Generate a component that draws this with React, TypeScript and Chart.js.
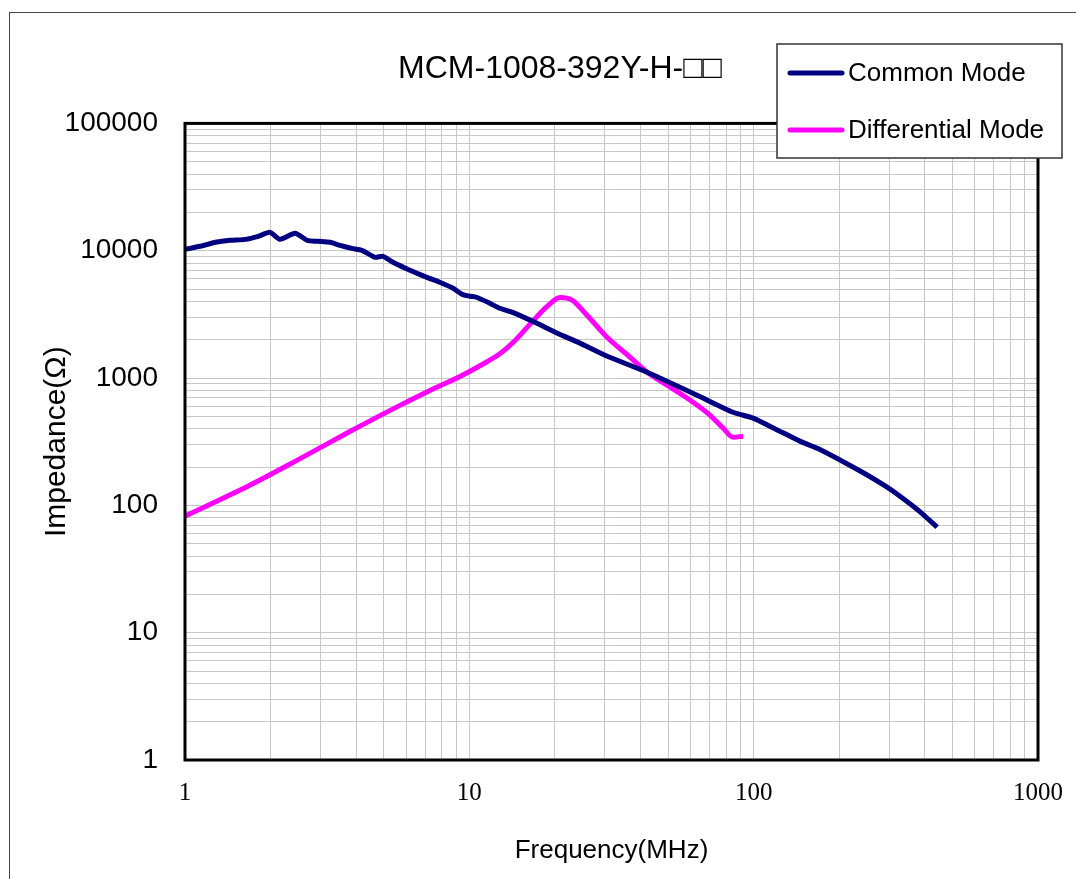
import React, { useEffect, useRef } from 'react';
import { Chart, registerables } from 'chart.js';

Chart.register(...registerables);

// ---------- data ----------
const TITLE = 'MCM-1008-392Y-H-□□';
const X_TITLE = 'Frequency(MHz)';
const Y_TITLE = 'Impedance(Ω)';
const SERIES_NAMES = ['Common Mode', 'Differential Mode'];
const X_TICKS = [1, 10, 100, 1000];
const Y_TICKS = [1, 10, 100, 1000, 10000, 100000];

const cmFreq = [1.0, 1.13, 1.28, 1.44, 1.63, 1.81, 1.99, 2.16, 2.44, 2.69, 2.93, 3.24, 3.51, 3.86, 4.19, 4.65, 4.97, 5.39, 6.18, 7.09, 7.87, 8.77, 9.42, 10.05, 10.6, 11.8, 12.8, 14.2, 17.0, 20.4, 24.5, 30.0, 42.2, 63.2, 84.6, 99.5, 120, 146, 171, 237, 290, 327, 385, 442];
const cmImpedance = [10260, 10830, 11640, 12070, 12280, 12970, 13940, 12280, 13700, 12070, 11850, 11640, 11020, 10440, 10070, 8880, 9040, 8110, 7020, 6180, 5650, 5070, 4550, 4390, 4310, 3870, 3530, 3280, 2740, 2250, 1880, 1510, 1110, 733, 539, 484, 395, 318, 275, 186, 142, 118, 89, 67.4];

const dmFreq = [1.0, 1.69, 2.54, 3.8, 5.7, 7.27, 9.27, 10.9, 12.8, 14.24, 16.35, 18.77, 20.84, 22.97, 25.94, 30.5, 36.8, 42.2, 49.6, 61.2, 70.3, 78.1, 84.6, 91.8];
const dmImpedance = [82.3, 144, 233, 380, 610, 800, 1030, 1250, 1550, 1900, 2650, 3650, 4300, 4100, 3112, 2090, 1456, 1111, 878, 646, 510, 404, 343, 349];

const SERIES_COLORS = ['#000080', '#FF00FF'];

// ---------- helpers ----------
const gridValues = (decades: number[]) => {
  const out: number[] = [];
  for (let i = 0; i < decades.length - 1; i++) {
    for (let m = 1; m <= 9; m++) out.push(m * decades[i]);
  }
  out.push(decades[decades.length - 1]);
  return out;
};

const isDecadeLabel = (v: number, list: number[]) =>
  list.some((d) => Math.abs(d - v) / d < 1e-6);

const SANS = '"Liberation Sans", Arial, sans-serif';
const SERIF = '"Liberation Serif", "Times New Roman", serif';

const CANVAS_W = 1120;
const CANVAS_H = 879;

const bgPlugin = {
  id: 'bgFrame',
  beforeDraw(chart: any) {
    const ctx = chart.ctx;
    ctx.save();
    ctx.fillStyle = '#ffffff';
    ctx.fillRect(0, 0, chart.width, chart.height);
    ctx.strokeStyle = '#444444';
    ctx.lineWidth = 1;
    ctx.strokeRect(9.5, 12.5, 3000, 3000);
    ctx.restore();
  },
};

const plotBorderPlugin = {
  id: 'plotBorder',
  afterDatasetsDraw(chart: any) {
    const { left, top, right, bottom } = chart.chartArea;
    const ctx = chart.ctx;
    ctx.save();
    ctx.strokeStyle = '#000000';
    ctx.lineWidth = 3;
    ctx.strokeRect(left, top, right - left, bottom - top);
    ctx.restore();
  },
};

const legendBoxPlugin = {
  id: 'legendBox',
  afterDraw(chart: any) {
    const ctx = chart.ctx;
    const bx = 777, by = 44, bw = 285, bh = 114;
    ctx.save();
    ctx.fillStyle = '#ffffff';
    ctx.fillRect(bx, by, bw, bh);
    ctx.strokeStyle = '#333333';
    ctx.lineWidth = 1.5;
    ctx.strokeRect(bx, by, bw, bh);
    const rows = [73, 130];
    chart.data.datasets.forEach((ds: any, i: number) => {
      const y = rows[i];
      ctx.strokeStyle = ds.borderColor;
      ctx.lineWidth = 5;
      ctx.lineCap = 'round';
      ctx.beginPath();
      ctx.moveTo(790, y);
      ctx.lineTo(842, y);
      ctx.stroke();
      ctx.fillStyle = '#000000';
      ctx.font = `26px ${SANS}`;
      ctx.textBaseline = 'middle';
      ctx.textAlign = 'left';
      ctx.fillText(ds.label, 848, y + 1);
    });
    ctx.restore();
  },
};

export default function App() {
  const canvasRef = useRef<HTMLCanvasElement | null>(null);

  useEffect(() => {
    const canvas = canvasRef.current;
    if (!canvas) return;
    const cmData = cmFreq.map((f, i) => ({ x: f, y: cmImpedance[i] }));
    const dmData = dmFreq.map((f, i) => ({ x: f, y: dmImpedance[i] }));

    const chart = new Chart(canvas, {
      type: 'line',
      data: {
        datasets: [
          {
            label: SERIES_NAMES[0],
            data: cmData,
            borderColor: SERIES_COLORS[0],
            backgroundColor: SERIES_COLORS[0],
            borderWidth: 5,
            pointRadius: 0,
            tension: 0.2,
            fill: false,
          },
          {
            label: SERIES_NAMES[1],
            data: dmData,
            borderColor: SERIES_COLORS[1],
            backgroundColor: SERIES_COLORS[1],
            borderWidth: 5,
            pointRadius: 0,
            cubicInterpolationMode: 'monotone',
            fill: false,
          },
        ],
      },
      options: {
        responsive: false,
        animation: false,
        layout: { padding: 0 },
        plugins: {
          legend: { display: false },
          tooltip: { enabled: false },
          title: {
            display: true,
            text: TITLE,
            color: '#000000',
            font: { family: SANS, size: 32, weight: 'normal' },
            padding: { top: 50, bottom: 35 },
          },
        },
        scales: {
          x: {
            type: 'logarithmic',
            position: 'bottom',
            min: X_TICKS[0],
            max: X_TICKS[X_TICKS.length - 1],
            afterBuildTicks: (s: any) => {
              s.ticks = gridValues(X_TICKS).map((v) => ({ value: v }));
            },
            afterFit: (s: any) => {
              s.height = 119;
            },
            grid: { color: '#c8c8c8', lineWidth: 1, drawTicks: false },
            border: { display: false },
            ticks: {
              autoSkip: false,
              maxRotation: 0,
              minRotation: 0,
              padding: 18,
              color: '#000000',
              font: { family: SERIF, size: 25 },
              callback: (v: any) => (isDecadeLabel(Number(v), X_TICKS) ? String(Math.round(Number(v))) : ''),
            },
            title: {
              display: true,
              text: X_TITLE,
              color: '#000000',
              font: { family: SANS, size: 26 },
              padding: { top: 0, bottom: 13 },
            },
          },
          y: {
            type: 'logarithmic',
            position: 'left',
            min: Y_TICKS[0],
            max: Y_TICKS[Y_TICKS.length - 1],
            afterBuildTicks: (s: any) => {
              s.ticks = gridValues(Y_TICKS).map((v) => ({ value: v }));
            },
            afterFit: (s: any) => {
              s.width = 185;
            },
            grid: { color: '#c8c8c8', lineWidth: 1, drawTicks: false },
            border: { display: false },
            ticks: {
              autoSkip: false,
              padding: 27,
              color: '#000000',
              font: { family: SANS, size: 28 },
              callback: (v: any) => (isDecadeLabel(Number(v), Y_TICKS) ? String(Math.round(Number(v))) : ''),
            },
            title: {
              display: true,
              text: Y_TITLE,
              color: '#000000',
              font: { family: SANS, size: 30 },
              padding: { top: 39, bottom: 0 },
            },
          },
          spacer: {
            type: 'linear',
            position: 'right',
            display: true,
            grid: { display: false, drawTicks: false },
            border: { display: false },
            ticks: { display: false },
            afterFit: (s: any) => {
              s.width = CANVAS_W - 1038;
            },
          },
        },
      } as any,
      plugins: [bgPlugin, plotBorderPlugin, legendBoxPlugin],
    });

    return () => {
      chart.destroy();
    };
  }, []);

  return (
    <div
      style={{
        position: 'fixed',
        left: 0,
        top: 0,
        width: 1076,
        height: 879,
        overflow: 'hidden',
        background: '#ffffff',
      }}
    >
      <canvas
        ref={canvasRef}
        width={CANVAS_W}
        height={CANVAS_H}
        style={{ display: 'block', width: CANVAS_W, height: CANVAS_H }}
      />
    </div>
  );
}
